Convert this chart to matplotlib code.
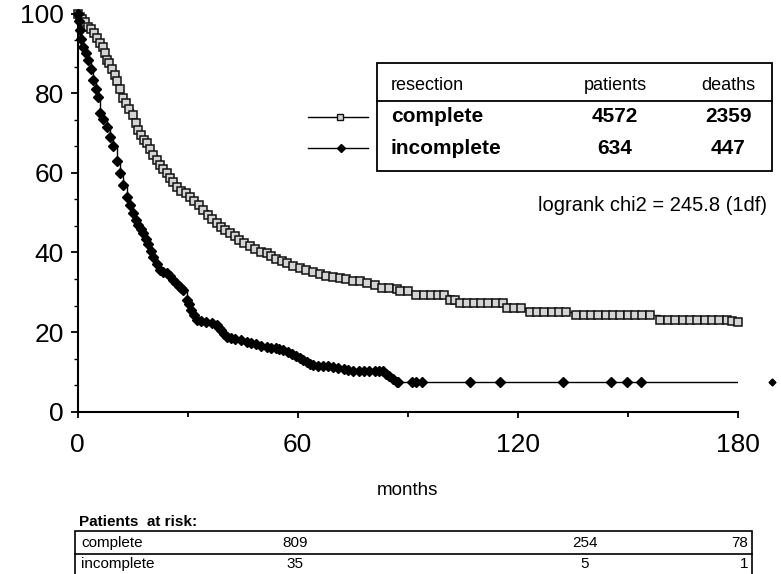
import numpy as np
import matplotlib.pyplot as plt
from matplotlib.lines import Line2D
from matplotlib.patches import Rectangle
from matplotlib.ticker import MultipleLocator

plt.rcParams["font.family"] = ["Liberation Sans", "DejaVu Sans"]

# survival (%), months
complete_t = [0, 0.6, 1.2, 2.0, 2.9, 3.6, 4.4, 5.2, 6.1, 7.0, 7.5, 7.9, 8.6, 9.4,
              10.2, 10.8, 11.6, 12.4, 13.2, 14.1, 15.1, 15.8, 16.5, 17.3, 18.0,
              18.8, 19.6, 20.5, 21.5, 22.4, 23.3, 24.3, 25.2, 26.1, 27.0, 28.2,
              29.4, 30.6, 31.8, 33.0, 34.2, 35.4, 36.6, 37.9, 39.1, 40.3, 41.5,
              42.8, 44.0, 45.4, 46.9, 48.4, 50.0, 51.5, 52.8, 54.2, 55.6, 57.0,
              58.8, 60.6, 62.4, 64.2, 66.0, 67.8, 69.7, 71.5, 73.3, 75.1, 77.0,
              79.0, 81.0, 83.0, 85.0, 87.0, 88.0, 90.0, 92.4, 94.4, 96.4, 98.4,
              100.0, 101.6, 103.0, 104.3, 106.2, 108.1, 110.0, 112.0, 114.0,
              116.0, 117.0, 119.0, 121.0, 123.3, 125.3, 127.3, 129.3, 131.3,
              133.3, 136.0, 138.0, 140.0, 142.0, 144.0, 146.0, 148.0, 150.0,
              152.0, 154.0, 156.0, 158.8, 161.0, 163.0, 165.0, 167.0, 169.0,
              171.0, 173.0, 175.0, 177.0, 178.5, 180.0]
complete_s = [100, 99, 98.5, 97.8, 96.7, 96, 95, 93.8, 92.7, 91.7, 90, 88.4,
              87.5, 86, 84.6, 83, 81, 78.8, 77.5, 76, 74.5, 72.5, 70.8, 69.5,
              68.3, 67.4, 66, 64.5, 63.2, 62, 61, 59.9, 58.8, 57.6, 56.5, 55.5,
              54.8, 54, 52.8, 51.8, 50.7, 49.5, 48.4, 47.3, 46.4, 45.6, 44.8,
              44, 43.2, 42.3, 41.5, 40.8, 40.2, 39.8, 39.0, 38.3, 37.8, 37.3,
              36.6, 36, 35.5, 35.0, 34.6, 34.2, 33.9, 33.5, 33.2, 32.9, 32.7,
              32.3, 31.8, 31, 31, 30.8, 30.2, 30.2, 29.3, 29.3, 29.3, 29.3,
              29.3, 28.1, 28.1, 27.2, 27.2, 27.2, 27.2, 27.2, 27.2, 27.2, 26,
              26, 26, 25.1, 25.1, 25.1, 25.1, 25.1, 25.1, 24.3, 24.3, 24.3,
              24.3, 24.3, 24.3, 24.3, 24.3, 24.3, 24.3, 24.3, 23, 23, 23, 23,
              23, 23, 23, 23, 23, 23, 22.8, 22.6]

incomplete_t = [0, 0.3, 0.6, 1.0, 1.5, 2.2, 2.9, 3.6, 4.3, 5.0, 5.6, 6.1, 7.0,
                7.9, 8.8, 9.7, 10.6, 11.5, 12.4, 13.4, 14.3, 15.2, 15.9, 16.5,
                17.2, 17.9, 18.6, 19.2, 19.9, 20.6, 21.5, 22.4, 23.3, 24.3, 25.2,
                26.1, 26.8, 27.5, 28.2, 28.8, 29.7, 30.3, 31.0, 31.7, 32.5, 33.7,
                35.0, 36.5, 37.9, 38.5, 39.0, 39.8, 40.6, 41.8, 43.0, 44.5, 46.1,
                47.3, 48.5, 50.0, 51.5, 52.8, 54.0, 55.0, 56.1, 57.3, 58.5, 59.5,
                60.6, 61.5, 62.5, 63.4, 64.3, 65.6, 67.0, 68.3, 69.7, 71.1, 72.5,
                73.8, 75.2, 76.6, 78.0, 79.5, 81.0, 82.1, 83.3, 84.2, 85.0, 86.0,
                87.0, 87.4, 91.1, 92.4, 93.8, 107.0, 115.2, 132.3, 145.5, 149.7,
                153.6, 180.0]
incomplete_s = [100, 98, 95.9, 93.5, 91.7, 90, 88.4, 86, 83.3, 81, 79.1, 75,
                73.5, 71.6, 69, 66.6, 63, 59.9, 57, 54, 52, 49.8, 48.2, 47, 45.8,
                44.8, 43.3, 42, 40.4, 38.9, 37, 35.6, 35.2, 34.8, 34, 33.1, 32.3,
                31.5, 31, 30.6, 28.1, 27, 25.5, 24.3, 23, 22.8, 22.5, 22.2, 21.8,
                21, 20.5, 19.5, 18.8, 18.5, 18.2, 17.9, 17.6, 17.3, 17, 16.6,
                16.3, 16.1, 16, 15.7, 15.5, 15, 14.5, 14, 13.4, 13, 12.5, 12.1,
                11.7, 11.6, 11.5, 11.4, 11.3, 11, 10.8, 10.4, 10.1, 10.1, 10.1,
                10.1, 10.1, 10.1, 10.1, 9.5, 9, 8.2, 7.5, 7.5, 7.5, 7.5, 7.5, 7.5,
                7.5, 7.5, 7.5, 7.5, 7.5, 7.5]
late_point = (189.3, 7.5)

groups = ["complete", "incomplete"]
patients = [4572, 634]
deaths = [2359, 447]
logrank = "logrank chi2 = 245.8 (1df)"

risk_complete = ["809", "254", "78"]
risk_incomplete = ["35", "5", "1"]

fig = plt.figure(figsize=(7.81, 5.74), dpi=100)
ax = fig.add_axes([77.7 / 781, 162.3 / 574, 660 / 781, 398.2 / 574])

ax.plot(complete_t, complete_s, drawstyle="steps-post", color="#222222",
        linewidth=1.0, marker="s", markersize=6, markerfacecolor="#d4d4d4",
        markeredgecolor="#111111", markeredgewidth=1.1, clip_on=False)
ax.plot(incomplete_t, incomplete_s, drawstyle="steps-post", color="black",
        linewidth=1.0)
ax.plot(incomplete_t[:-1], incomplete_s[:-1], linestyle="none", marker="D",
        markersize=5.5, color="black", clip_on=False)
ax.plot([late_point[0]], [late_point[1]], linestyle="none", marker="D",
        markersize=3.5, color="black", clip_on=False)

ax.set_xlim(0, 180)
ax.set_ylim(0, 100)
ax.xaxis.set_major_locator(MultipleLocator(60))
ax.xaxis.set_minor_locator(MultipleLocator(30))
ax.yaxis.set_major_locator(MultipleLocator(20))
ax.yaxis.set_minor_locator(MultipleLocator(20 / 3))
for s in ["top", "right"]:
    ax.spines[s].set_visible(False)
for s in ["left", "bottom"]:
    ax.spines[s].set_linewidth(1.5)
ax.tick_params(axis="x", which="major", length=4, width=1.3, pad=11, labelsize=19)
ax.tick_params(axis="x", which="minor", length=3.5, width=1.3)
ax.tick_params(axis="y", which="major", length=5, width=1.3, pad=5, labelsize=19)
ax.tick_params(axis="y", which="minor", length=3, width=1.0)
ax.set_xlabel("months", fontsize=13.5, labelpad=18)


def fx(px):
    return px / 781


def fy(py):
    return 1 - py / 574


# legend table
fig.add_artist(Rectangle((fx(377), fy(171)), fx(772) - fx(377), fy(63) - fy(171),
                         fill=False, linewidth=1.3, edgecolor="black",
                         transform=fig.transFigure))
fig.add_artist(Line2D([fx(377), fx(772)], [fy(101), fy(101)], color="black",
                      linewidth=1.3, transform=fig.transFigure))
fig.text(fx(391), fy(85), "resection", fontsize=13, va="center")
fig.text(fx(615), fy(85), "patients", fontsize=13, va="center", ha="center")
fig.text(fx(728), fy(85), "deaths", fontsize=13, va="center", ha="center")
row_y = [117, 148]
for name, p, d, y in zip(groups, patients, deaths, row_y):
    fig.text(fx(391), fy(y), name, fontsize=15, fontweight="bold", va="center")
    fig.text(fx(615), fy(y), str(p), fontsize=15, fontweight="bold",
             va="center", ha="center")
    fig.text(fx(728), fy(y), str(d), fontsize=15, fontweight="bold",
             va="center", ha="center")

fig.add_artist(Line2D([fx(308), fx(368)], [fy(117), fy(117)], color="black",
                      linewidth=1.0, transform=fig.transFigure))
fig.add_artist(Line2D([fx(340)], [fy(117)], marker="s", markersize=5,
                      markerfacecolor="#d4d4d4", markeredgecolor="#111111",
                      transform=fig.transFigure))
fig.add_artist(Line2D([fx(308), fx(368)], [fy(148), fy(148)], color="black",
                      linewidth=1.0, transform=fig.transFigure))
fig.add_artist(Line2D([fx(341)], [fy(148)], marker="D", markersize=4.5,
                      color="black", transform=fig.transFigure))

fig.text(fx(767), fy(205), logrank, fontsize=14.5, ha="right", va="center")

# patients at risk
fig.text(fx(79), fy(522), "Patients  at risk:", fontsize=11, fontweight="bold",
         va="center")
fig.add_artist(Rectangle((fx(75), fy(580)), fx(752) - fx(75), fy(531) - fy(580),
                         fill=False, linewidth=1.2, edgecolor="black",
                         transform=fig.transFigure))
fig.add_artist(Line2D([fx(75), fx(752)], [fy(554), fy(554)], color="black",
                      linewidth=1.2, transform=fig.transFigure))
col_x = [295, 585]
for label, vals, y in [("complete", risk_complete, 543),
                       ("incomplete", risk_incomplete, 564)]:
    fig.text(fx(81), fy(y), label, fontsize=11, va="center")
    fig.text(fx(col_x[0]), fy(y), vals[0], fontsize=11, va="center", ha="center")
    fig.text(fx(col_x[1]), fy(y), vals[1], fontsize=11, va="center", ha="center")
    fig.text(fx(748), fy(y), vals[2], fontsize=11, va="center", ha="right")

fig.savefig("out.png", dpi=100)
